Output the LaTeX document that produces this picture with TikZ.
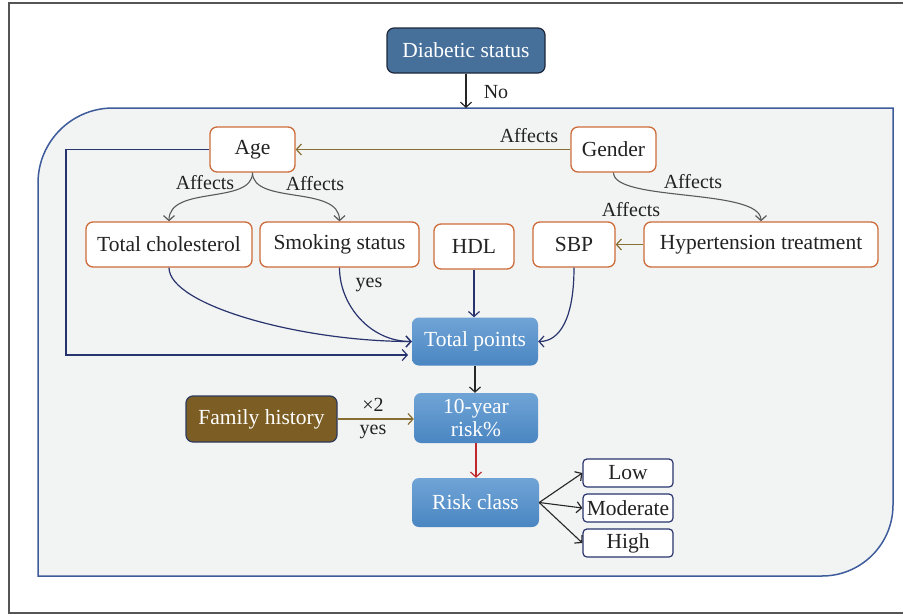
\documentclass[tikz,border=0pt]{standalone}
\usepackage{fontspec}
\setmainfont{Liberation Serif}
\usetikzlibrary{arrows.meta}

\definecolor{framec}{RGB}{85,85,85}
\definecolor{panelf}{RGB}{242,243,243}
\definecolor{panelb}{RGB}{62,92,156}
\definecolor{orangeb}{RGB}{205,108,58}
\definecolor{navyc}{RGB}{40,52,110}
\definecolor{grayc}{RGB}{90,90,90}
\definecolor{olivec}{RGB}{135,110,50}
\definecolor{redc}{RGB}{192,40,45}
\definecolor{blueT}{RGB}{112,164,214}
\definecolor{blueB}{RGB}{74,134,194}
\definecolor{dsfill}{RGB}{70,112,154}
\definecolor{dsdraw}{RGB}{30,40,58}
\definecolor{fhfill}{RGB}{124,94,36}
\definecolor{fhdraw}{RGB}{45,58,90}
\definecolor{txt}{RGB}{34,34,34}

\begin{document}
\begin{tikzpicture}[x=1pt, y=-1pt,
  font=\fontsize{21.5}{23}\selectfont,
  tip/.tip={Straight Barb[length=5pt,width=11pt,line width=1.2pt]},
  factor/.style={draw=orangeb, line width=1.3pt, fill=white, rounded corners=7pt,
    inner sep=0pt, text=txt, minimum height=45pt},
  bluebox/.style={rounded corners=7pt, top color=blueT, bottom color=blueB,
    draw=none, text=white, inner sep=0pt, align=center},
  outbox/.style={draw=navyc, line width=1.2pt, fill=white, rounded corners=4pt,
    inner sep=0pt, text=txt, minimum width=90pt, minimum height=28pt},
  lbl/.style={font=\fontsize{20}{22}\selectfont, text=txt, inner sep=0pt},
  navyline/.style={draw=navyc, line width=1.2pt, -tip},
  grayline/.style={draw=grayc, line width=1.1pt, -tip},
  oliveline/.style={draw=olivec, line width=1.2pt, -tip},
  blackline/.style={draw=black!85, line width=1.1pt, -tip},
  redline/.style={draw=redc, line width=1.1pt, -tip}]

\useasboundingbox (0,0) rectangle (903,616);

% outer frame, open to the right
\draw[framec, line width=2pt] (906,2.5) -- (8.5,2.5) -- (8.5,613) -- (906,613);

% shaded panel with two rounded corners
\draw[draw=panelb, fill=panelf, line width=1.5pt]
  (38,576) -- (38,183) .. controls (38,141.6) and (71.6,108) .. (113,108)
  -- (893,108) -- (893,505) .. controls (893,544.2) and (861.2,576) .. (822,576) -- cycle;

% nodes
\node[fill=dsfill, draw=dsdraw, line width=1.2pt, rounded corners=7pt, text=white,
  inner sep=0pt, minimum width=158pt, minimum height=45pt] (ds) at (466,50.5) {Diabetic status};

\node[factor, minimum width=85pt]  (age)    at (252.5,149.5) {Age};
\node[factor, minimum width=85pt]  (gender) at (613.5,149.5) {Gender};
\node[factor, minimum width=166pt] (tc)     at (169,244.5)   {Total cholesterol};
\node[factor, minimum width=159pt] (ss)     at (339.5,244.5) {Smoking status};
\node[factor, minimum width=80pt]  (hdl)    at (474,246.5)   {HDL};
\node[factor, minimum width=82pt]  (sbp)    at (574,244.5)   {SBP};
\node[factor, minimum width=234pt] (ht)     at (761,244.5)   {Hypertension treatment};

\node[bluebox, minimum width=126pt, minimum height=48pt] (tp)     at (475,341.5) {Total points};
\node[bluebox, minimum width=124pt, minimum height=50pt] (risk10) at (476,418)   {10-year\\risk\%};
\node[bluebox, minimum width=127pt, minimum height=49pt] (rc)     at (475.5,502.5) {Risk class};

\node[fill=fhfill, draw=fhdraw, line width=1.2pt, rounded corners=7pt, text=white,
  inner sep=0pt, minimum width=151pt, minimum height=46pt] (fh) at (261.5,419) {Family history};

\node[outbox] (low)  at (628,473) {Low};
\node[outbox] (mod)  at (628,508) {Moderate};
\node[outbox] (high) at (628,543) {High};

% free ends
\coordinate (panelin) at (466,108);
\coordinate (agebend) at (66,355);
\coordinate (agein)   at (408,355);

% connectors
\draw[blackline] (ds.south) -- (panelin) node[lbl] at (496,92) {No};

\draw[oliveline] (gender.west) -- (age.east) node[lbl] at (529,136) {Affects};
\draw[oliveline] (ht.west) -- (sbp.east) node[lbl] at (631,210) {Affects};

\draw[grayline] (age.south) .. controls (252.5,205) and (169,185) .. (tc.north)
  node[lbl] at (205,183) {Affects};
\draw[grayline] (age.south) .. controls (252.5,205) and (339.5,185) .. (ss.north)
  node[lbl] at (315,184) {Affects};
\draw[grayline] (gender.south) .. controls (613.5,202) and (761,188) .. (ht.north)
  node[lbl] at (693,182) {Affects};

\draw[navyline] (age.west) -| (agebend) -- (agein);
\draw[navyline] (tc.south) .. controls (169,305) and (300,341.5) .. (tp.west);
\draw[navyline] (ss.south) .. controls (339.5,305) and (370,341.5) .. (tp.west)
  node[lbl] at (369,285) {yes};
\draw[navyline] (hdl.south) -- (hdl.south |- tp.north);
\draw[navyline] (sbp.south) .. controls (574,318) and (560,341.5) .. (tp.east);

\draw[blackline] (tp.south) -- (tp.south |- risk10.north);
\draw[oliveline] (fh.east) -- (fh.east -| risk10.west)
  node[lbl] at (373,405) {×2}
  node[lbl] at (373,432) {yes};
\draw[redline] (risk10.south) -- (risk10.south |- rc.north);

\draw[blackline] (rc.east) -- (low.west);
\draw[blackline] (rc.east) -- (mod.west);
\draw[blackline] (rc.east) -- (high.west);

\end{tikzpicture}
\end{document}
